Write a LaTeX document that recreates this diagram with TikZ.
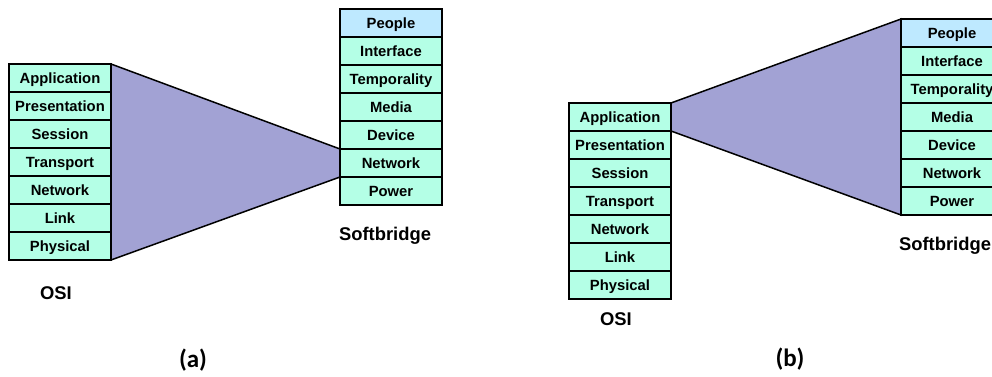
\documentclass[tikz,border=0pt]{standalone}
\usepackage{fontspec}
\setmainfont{Liberation Sans}
\newfontfamily\capfont{Carlito}
\usetikzlibrary{positioning,backgrounds}
\definecolor{layergreen}{RGB}{180,255,230}
\definecolor{peopleblue}{RGB}{190,233,255}
\definecolor{funnel}{RGB}{162,162,212}
\begin{document}
\begin{tikzpicture}[x=1pt, y=-1pt, node distance={28pt},
    layer/.style = {draw, line width=1.8pt, fill=layergreen, minimum width=102pt, minimum height=28pt, inner sep=0pt, outer sep=0pt, text height=10.6pt, text depth=0pt, font=\fontsize{14.8}{16}\selectfont\bfseries},
    top/.style = {layer, fill=peopleblue},
    title/.style = {text height=13.2pt, text depth=0pt, font=\fontsize{18.4}{20}\selectfont\bfseries},
    caption/.style = {font=\fontsize{25}{27}\selectfont\capfont\bfseries}]
    \clip (0,0) rectangle (992,377);
    % (a)
    \node[layer] (o1) at (60,78) {Application};
    \node[layer] (o2) [below of=o1] {Presentation};
    \node[layer] (o3) [below of=o2] {Session};
    \node[layer] (o4) [below of=o3] {Transport};
    \node[layer] (o5) [below of=o4] {Network};
    \node[layer] (o6) [below of=o5] {Link};
    \node[layer] (o7) [below of=o6] {Physical};
    \node[top] (s1) at (391,23) {People};
    \node[layer] (s2) [below of=s1] {Interface};
    \node[layer] (s3) [below of=s2] {Temporality};
    \node[layer] (s4) [below of=s3] {Media};
    \node[layer] (s5) [below of=s4] {Device};
    \node[layer] (s6) [below of=s5] {Network};
    \node[layer] (s7) [below of=s6] {Power};
    \begin{scope}[on background layer]
        \draw [line width=1.5pt, fill=funnel] (o1.north east) -- (s6.north west) -- (s6.south west) -- (o7.south east) -- cycle;
    \end{scope}
    \node[title] (osiA) at (56,293) {OSI};
    \node[title] (sbA) at (385,234) {Softbridge};
    \node[caption] (capA) at (193,360) {(a)};
    % (b)
    \node[layer] (p1) at (620,117) {Application};
    \node[layer] (p2) [below of=p1] {Presentation};
    \node[layer] (p3) [below of=p2] {Session};
    \node[layer] (p4) [below of=p3] {Transport};
    \node[layer] (p5) [below of=p4] {Network};
    \node[layer] (p6) [below of=p5] {Link};
    \node[layer] (p7) [below of=p6] {Physical};
    \node[top] (q1) at (952,33) {People};
    \node[layer] (q2) [below of=q1] {Interface};
    \node[layer] (q3) [below of=q2] {Temporality};
    \node[layer] (q4) [below of=q3] {Media};
    \node[layer] (q5) [below of=q4] {Device};
    \node[layer] (q6) [below of=q5] {Network};
    \node[layer] (q7) [below of=q6] {Power};
    \begin{scope}[on background layer]
        \draw [line width=1.5pt, fill=funnel] (p1.north east) -- (q1.north west) -- (q7.south west) -- (p1.south east) -- cycle;
    \end{scope}
    \node[title] (osiB) at (616,319) {OSI};
    \node[title] (sbB) at (945,244) {Softbridge};
    \node[caption] (capB) at (790,359) {(b)};
\end{tikzpicture}
\end{document}
